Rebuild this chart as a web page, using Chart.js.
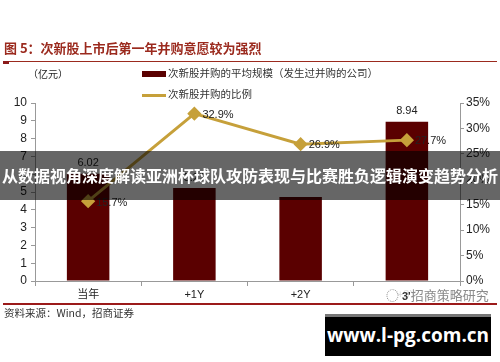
<!DOCTYPE html>
<html lang="zh">
<head>
    <meta charset="UTF-8">
    <title>次新股并购意愿</title>
    <style>
        body {
            margin: 0;
            width: 500px;
            height: 362px;
            background: #fff;
            position: relative;
            overflow: hidden;
            font-family: Arial, "Noto Sans CJK SC", sans-serif;
        }
        #chart-wrap {
            position: absolute;
            left: 0;
            top: 0;
            width: 500px;
            height: 362px;
        }
        .title {
            position: absolute;
            left: 4px;
            top: 38px;
            font-family: "Noto Sans CJK SC", sans-serif;
            font-size: 13px;
            font-weight: bold;
            color: #9b2a1e;
        }
        .title-line {
            position: absolute;
            left: 3px;
            top: 61px;
            width: 494px;
            height: 1px;
            background: #9b2a1e;
        }
        .title-line-thick {
            position: absolute;
            left: 3px;
            top: 61px;
            width: 6px;
            height: 3px;
            background: #8b1a1a;
        }
        .unit {
            position: absolute;
            left: 28px;
            top: 66px;
            font-family: "Noto Sans CJK SC", sans-serif;
            font-size: 10px;
            color: #222;
        }
        .legend {
            position: absolute;
            left: 142px;
            font-family: "Noto Sans CJK SC", sans-serif;
            font-size: 10.5px;
            color: #333;
            white-space: nowrap;
        }
        .sw-bar {
            display: inline-block;
            width: 24px;
            height: 6px;
            background: #5a0000;
            vertical-align: middle;
            margin-right: 2px;
        }
        .sw-line {
            display: inline-block;
            width: 24px;
            height: 3px;
            background: #c6a03a;
            vertical-align: middle;
            margin-right: 2px;
        }
        .bottom-line {
            position: absolute;
            left: 3px;
            top: 303px;
            width: 494px;
            height: 2px;
            background: #9b1a1a;
        }
        .source {
            position: absolute;
            left: 4px;
            top: 305px;
            font-family: "Noto Sans CJK SC", sans-serif;
            font-size: 10.5px;
            color: #333;
        }
        .wechat {
            position: absolute;
            left: 384px;
            top: 287px;
            padding: 0 2px;
            background: rgba(255, 255, 255, 0.85);
            font-family: "Noto Sans CJK SC", sans-serif;
            font-size: 13px;
            line-height: 16px;
            color: #8a8a8a;
            white-space: nowrap;
        }
        .wechat b {
            color: #333;
            font-family: Arial, sans-serif;
            font-size: 11px;
        }
        .banner {
            position: absolute;
            left: 0;
            top: 151px;
            width: 500px;
            height: 49px;
            background: rgba(0, 0, 0, 0.6);
            color: #fff;
            font-family: "Noto Sans CJK SC", sans-serif;
            font-weight: bold;
            font-size: 16px;
            line-height: 49px;
            text-align: center;
            white-space: nowrap;
        }
        .site {
            position: absolute;
            left: 325px;
            top: 314px;
            width: 166px;
            height: 39px;
            background: #000;
            border-top: 3px solid #777;
            color: #fff;
            font-family: "Open Sans", sans-serif;
            font-weight: bold;
            font-size: 19px;
            line-height: 37px;
            text-align: center;
        }
    </style>
</head>
<body>
    <div id="chart-wrap"><canvas id="combo-chart" width="500" height="362"></canvas></div>
    <div class="title">图 5：次新股上市后第一年并购意愿较为强烈</div>
    <div class="title-line"></div>
    <div class="title-line-thick"></div>
    <div class="unit">（亿元）</div>
    <div class="legend" style="top:65px"><span class="sw-bar"></span>次新股并购的平均规模（发生过并购的公司）</div>
    <div class="legend" style="top:86px"><span class="sw-line"></span>次新股并购的比例</div>
    <div class="wechat">◌ <b>3'</b>招商策略研究</div>
    <div class="bottom-line"></div>
    <div class="source">资料来源：Wind，招商证券</div>
    <div class="banner">从数据视角深度解读亚洲杯球队攻防表现与比赛胜负逻辑演变趋势分析</div>
    <div class="site">www.l-pg.com.cn</div>

    <script src="https://cdn.jsdelivr.net/npm/chart.js"></script>
    <script>
        const categories = ['当年', '+1Y', '+2Y', '+3Y'];
        const avgScale = [6.02, 5.22, 4.72, 8.94];      // 亿元
        const mergeRatio = [15.7, 32.9, 26.9, 27.7];    // %
        const leftTicks = [0, 1, 2, 3, 4, 5, 6, 7, 8, 9, 10];
        const rightTicks = [0, 5, 10, 15, 20, 25, 30, 35];
        const hiddenBarLabels = [2]; // +2Y value label is not shown in the source picture

        // small label plugin, no datalabels available offline
        const valueLabels = {
            id: 'valueLabels',
            afterDatasetsDraw(chart) {
                const ctx = chart.ctx;
                ctx.save();
                ctx.font = '11px Arial';
                ctx.fillStyle = '#222';
                const bars = chart.getDatasetMeta(0).data;
                bars.forEach((el, i) => {
                    if (hiddenBarLabels.includes(i)) return;
                    ctx.textAlign = 'center';
                    ctx.textBaseline = 'bottom';
                    ctx.fillText(avgScale[i].toFixed(2), el.x, el.y - 5);
                });
                const pts = chart.getDatasetMeta(1).data;
                pts.forEach((el, i) => {
                    ctx.textAlign = 'left';
                    ctx.textBaseline = 'middle';
                    const dy = i === 0 ? 2 : 1;
                    ctx.fillText(mergeRatio[i].toFixed(1) + '%', el.x + 8, el.y + dy);
                });
                ctx.restore();
            }
        };

        const ctx = document.getElementById('combo-chart').getContext('2d');
        new Chart(ctx, {
            data: {
                labels: categories,
                datasets: [{
                    type: 'bar',
                    label: '次新股并购的平均规模（发生过并购的公司）',
                    data: avgScale,
                    backgroundColor: '#5a0000',
                    yAxisID: 'y',
                    barPercentage: 0.8,
                    categoryPercentage: 0.5,
                    order: 2
                }, {
                    type: 'line',
                    label: '次新股并购的比例',
                    data: mergeRatio,
                    borderColor: '#c6a03a',
                    backgroundColor: '#c6a03a',
                    borderWidth: 3,
                    pointStyle: 'rectRot',
                    pointRadius: 5,
                    tension: 0,
                    yAxisID: 'y1',
                    order: 1
                }]
            },
            options: {
                responsive: false,
                animation: false,
                layout: { padding: { top: 103, bottom: 61, left: 0, right: 0 } },
                plugins: {
                    legend: { display: false },
                    tooltip: { enabled: false }
                },
                scales: {
                    x: {
                        grid: { display: true, drawOnChartArea: false, offset: true, color: '#999', tickLength: 5 },
                        border: { color: '#999' },
                        ticks: { color: '#222', font: { size: 11, family: 'Arial, "Noto Sans CJK SC"' }, padding: 2 },
                        afterFit(scale) { scale.height = 20; }
                    },
                    y: {
                        position: 'left',
                        min: 0,
                        max: 10,
                        afterBuildTicks(scale) { scale.ticks = leftTicks.map(v => ({ value: v })); },
                        grid: { drawOnChartArea: false, color: '#999', tickLength: 4 },
                        border: { color: '#999' },
                        ticks: { color: '#222', font: { size: 12, family: 'Arial' }, padding: 4 },
                        afterFit(scale) { scale.width = 35; }
                    },
                    y1: {
                        position: 'right',
                        min: 0,
                        max: 35,
                        afterBuildTicks(scale) { scale.ticks = rightTicks.map(v => ({ value: v })); },
                        grid: { drawOnChartArea: false, color: '#999', tickLength: 4 },
                        border: { color: '#999' },
                        ticks: { color: '#222', font: { size: 12, family: 'Arial' }, padding: 2, callback: v => v + '%' },
                        afterFit(scale) { scale.width = 40; }
                    }
                }
            },
            plugins: [valueLabels]
        });
    </script>
</body>
</html>
